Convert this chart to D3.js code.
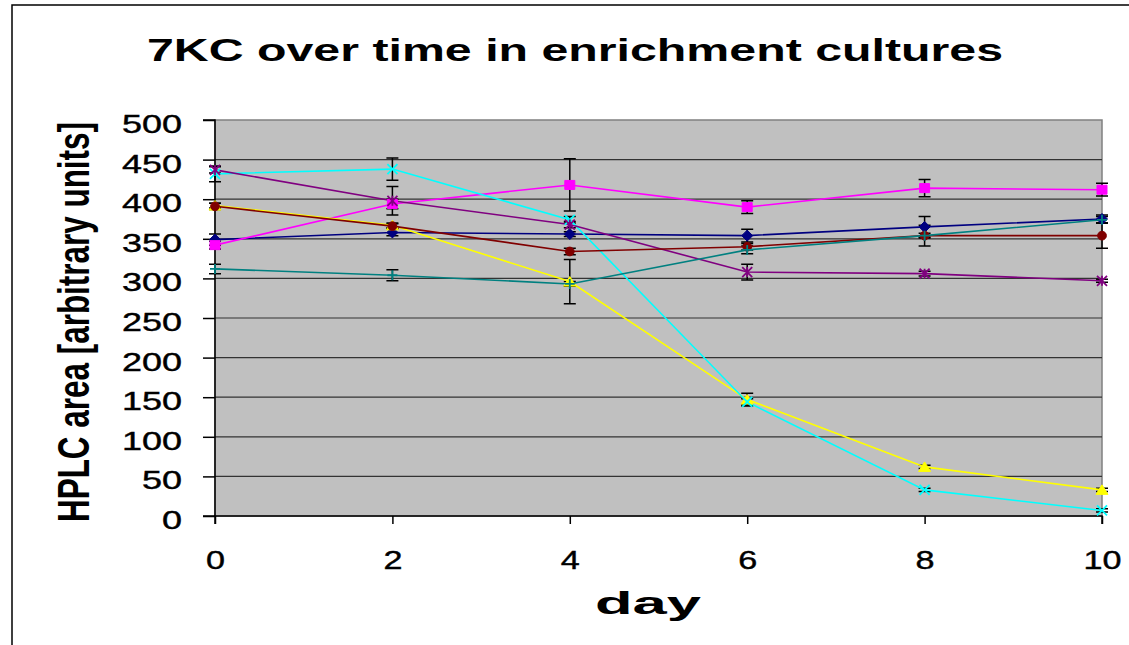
<!DOCTYPE html>
<html>
<head>
<meta charset="utf-8">
<script src="https://cdn.jsdelivr.net/npm/d3@7"></script>
<style>
  body { margin: 0; background: #fff; }
  text { font-family: "Liberation Sans", Arial, sans-serif; }
</style>
</head>
<body>
<svg width="1129" height="645"></svg>
<script>
// Data
const days = [0, 2, 4, 6, 8, 10];
const yTicks = [0, 50, 100, 150, 200, 250, 300, 350, 400, 450, 500];

const navyVals    = [349, 358, 356, 354, 365, 375];
const navyErr     = [7, 4, 3, 8, 13, 5];
const magentaVals = [342, 394, 418, 390, 414, 412];
const magentaErr  = [5, 6, 33, 8, 11, 8];
const yellowVals  = [392, 367, 296, 147, 62, 33];
const yellowErr   = [3, 3, 28, 8, 2, 2];
const cyanVals    = [432, 438, 374, 144, 33, 7];
const cyanErr     = [10, 14, 4, 4, 2, 2];
const purpleVals  = [437, 398, 368, 308, 306, 297];
const purpleErr   = [4, 18, 4, 10, 3, 2];
const redVals     = [391, 366, 334, 340, 354, 354];
const redErr      = [4, 3, 4, 4, 3, 16];
const tealVals    = [312, 304, 293, 336, 354, 374];
const tealErr     = [6, 7, 3, 5, 13, 4];

const series = [
  { vals: navyVals,    err: navyErr,    color: "#000080", marker: "diamond" },
  { vals: magentaVals, err: magentaErr, color: "#ff00ff", marker: "square" },
  { vals: yellowVals,  err: yellowErr,  color: "#ffff00", marker: "triangle" },
  { vals: cyanVals,    err: cyanErr,    color: "#00ffff", marker: "x" },
  { vals: purpleVals,  err: purpleErr,  color: "#800080", marker: "star" },
  { vals: redVals,     err: redErr,     color: "#800000", marker: "circle" },
  { vals: tealVals,    err: tealErr,    color: "#008080", marker: "plus" }
];

const plotLeft = 215, plotRight = 1102, plotTop = 120, plotBottom = 516;

const svg = d3.select("svg");

// outer chart border (left + top only visible)
svg.append("path")
  .attr("d", `M12,645 L12,5 L1129,5`)
  .attr("fill", "none")
  .attr("stroke", "#000")
  .attr("stroke-width", 1.5);

const x = d3.scaleLinear().domain([0, 10]).range([plotLeft, plotRight]);
const y = d3.scaleLinear().domain([0, 500]).range([plotBottom, plotTop]);

// plot area
svg.append("rect")
  .attr("x", plotLeft).attr("y", plotTop)
  .attr("width", plotRight - plotLeft).attr("height", plotBottom - plotTop)
  .attr("fill", "#c0c0c0")
  .attr("stroke", "#808080")
  .attr("stroke-width", 1.5);

// gridlines
svg.append("g")
  .selectAll("line")
  .data(yTicks.filter(d => d > 0 && d < 500))
  .enter().append("line")
  .attr("x1", plotLeft).attr("x2", plotRight)
  .attr("y1", d => y(d)).attr("y2", d => y(d))
  .attr("stroke", "#333")
  .attr("stroke-width", 1.2);

// axes
const yAxis = svg.append("g")
  .attr("transform", `translate(${plotLeft},0)`)
  .call(d3.axisLeft(y).tickValues(yTicks).tickSize(12).tickPadding(21));
yAxis.selectAll("text")
  .attr("dy", "0.5em")
  .attr("font-size", 25)
  .attr("fill", "#000")
  .attr("stroke", "#000")
  .attr("stroke-width", 0.4)
  .attr("textLength", d => String(d).length * 20)
  .attr("lengthAdjust", "spacingAndGlyphs");

const xAxis = svg.append("g")
  .attr("transform", `translate(0,${plotBottom})`)
  .call(d3.axisBottom(x).tickValues(days).tickSize(8).tickPadding(27));
xAxis.selectAll("text")
  .attr("font-size", 25)
  .attr("fill", "#000")
  .attr("stroke", "#000")
  .attr("stroke-width", 0.4)
  .attr("textLength", d => String(d).length * 19)
  .attr("lengthAdjust", "spacingAndGlyphs");

svg.selectAll(".domain").attr("stroke", "#000").attr("stroke-width", 1.5);
svg.selectAll(".tick line").attr("stroke", "#000").attr("stroke-width", 1.5);
yAxis.select(".domain").attr("d", `M-12,${plotBottom}H0V${plotTop}H-12`);
xAxis.select(".domain").attr("d", `M${plotLeft},8V0H${plotRight}V8`);

// error bars
series.forEach(s => {
  const g = svg.append("g").attr("stroke", "#000").attr("stroke-width", 1.5);
  days.forEach((d, i) => {
    const cx = x(d), hi = y(s.vals[i] + s.err[i]), lo = y(s.vals[i] - s.err[i]);
    g.append("path")
      .attr("d", `M${cx},${hi}V${lo}M${cx - 6},${hi}H${cx + 6}M${cx - 6},${lo}H${cx + 6}`)
      .attr("fill", "none");
  });
});

// lines
const line = d3.line().x((d, i) => x(days[i])).y(d => y(d));
series.forEach(s => {
  svg.append("path")
    .datum(s.vals)
    .attr("d", line)
    .attr("fill", "none")
    .attr("stroke", s.color)
    .attr("stroke-width", 1.6);
});

// markers
function markerPath(type) {
  switch (type) {
    case "diamond":  return `M0,-5.5L5.5,0L0,5.5L-5.5,0Z`;
    case "square":   return `M-5,-4.5H5V4.5H-5Z`;
    case "triangle": return `M0,-5L6,4.5H-6Z`;
    case "circle":   return d3.symbol(d3.symbolCircle, 60)();
    case "x":        return `M-5,-5L5,5M-5,5L5,-5`;
    case "star":     return `M-5,-5L5,5M-5,5L5,-5M0,-5V5`;
    case "plus":     return `M-5,0H5M0,-5V5`;
  }
}
series.forEach(s => {
  const stroked = ["x", "star", "plus"].includes(s.marker);
  svg.append("g").selectAll("path")
    .data(s.vals)
    .enter().append("path")
    .attr("transform", (d, i) => `translate(${x(days[i])},${y(d)})`)
    .attr("d", markerPath(s.marker))
    .attr("fill", stroked ? "none" : s.color)
    .attr("stroke", s.color)
    .attr("stroke-width", stroked ? 1.8 : 1);
});

// title
svg.append("text")
  .attr("x", 575).attr("y", 61)
  .attr("text-anchor", "middle")
  .attr("font-size", 32)
  .attr("font-weight", "bold")
  .attr("textLength", 856)
  .attr("lengthAdjust", "spacingAndGlyphs")
  .text("7KC over time in enrichment cultures");

// x axis title
svg.append("text")
  .attr("x", 648).attr("y", 614)
  .attr("text-anchor", "middle")
  .attr("font-size", 32)
  .attr("font-weight", "bold")
  .attr("textLength", 106)
  .attr("lengthAdjust", "spacingAndGlyphs")
  .text("day");

// y axis title
svg.append("text")
  .attr("transform", "translate(89,322) scale(1.6,1) rotate(-90)")
  .attr("text-anchor", "middle")
  .attr("font-size", 28)
  .attr("font-weight", "bold")
  .attr("textLength", 400)
  .attr("lengthAdjust", "spacingAndGlyphs")
  .text("HPLC area [arbitrary units]");
</script>
</body>
</html>
